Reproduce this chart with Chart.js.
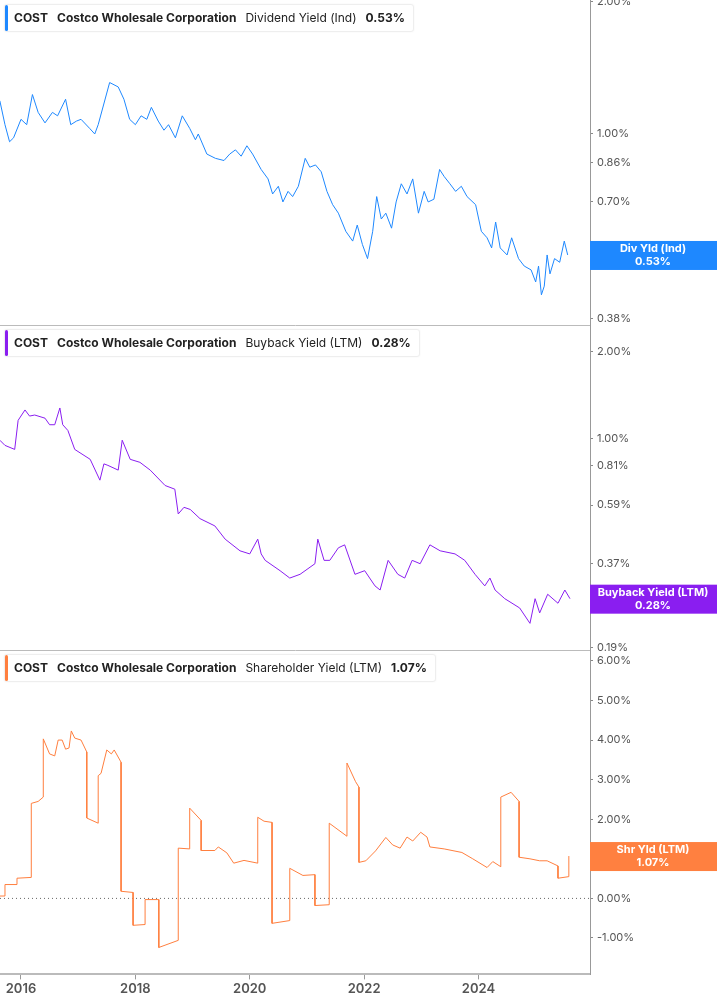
<!DOCTYPE html>
<html><head><meta charset="utf-8">
<script src="https://cdn.jsdelivr.net/npm/chart.js@4/dist/chart.umd.min.js"></script>
<style>
body{margin:0;background:#fff;font-family:Inter,"Noto Sans",sans-serif;overflow:hidden}
.p{position:absolute;left:0;width:717px;}
.lg{position:absolute;left:4px;background:#fff;border:1px solid #eee;border-radius:3px;font-size:12px;color:#222;height:26px;line-height:26px;padding:0 8px 0 9px;white-space:nowrap;box-shadow:0 0 2px rgba(0,0,0,.05);}
.lg .bar{position:absolute;left:0;top:0;width:3px;height:26px;border-radius:2px;}
.lg b{font-weight:700;margin-right:9px}
.lg span{margin-right:9px}
</style></head><body>
<div class="p" style="top:0;height:326px"><canvas id="c1"></canvas></div>
<div class="p" style="top:326px;height:325px"><canvas id="c2"></canvas></div>
<div class="p" style="top:651px;height:354px"><canvas id="c3"></canvas></div>
<div class="lg" style="top:4px"><div class="bar" style="background:#1e88ff"></div><b>COST</b><b>Costco Wholesale Corporation</b><span>Dividend Yield (Ind)</span><b style="margin:0">0.53%</b></div>
<div class="lg" style="top:329px"><div class="bar" style="background:#8a1ef0"></div><b>COST</b><b>Costco Wholesale Corporation</b><span>Buyback Yield (LTM)</span><b style="margin:0">0.28%</b></div>
<div class="lg" style="top:654px"><div class="bar" style="background:#ff7f3f"></div><b>COST</b><b>Costco Wholesale Corporation</b><span>Shareholder Yield (LTM)</span><b style="margin:0">1.07%</b></div>
<script>
const xMin=2015.633, xMax=2025.95;
const yearTicks=[2016,2018,2020,2022,2024];
const divTicks=[2.00,1.00,0.86,0.70,0.54,0.38];
const bbTicks=[2.00,1.00,0.81,0.59,0.37,0.27,0.19];
const shrTicks=[6,5,4,3,2,1,0,-1];
const divYield=[[2015.63,1.19],[2015.72,1.05],[2015.80,0.96],[2015.87,0.98],[2016.00,1.08],[2016.10,1.05],[2016.20,1.23],[2016.30,1.12],[2016.42,1.06],[2016.55,1.12],[2016.64,1.10],[2016.78,1.20],[2016.87,1.05],[2016.97,1.07],[2017.05,1.08],[2017.20,1.03],[2017.29,1.00],[2017.35,1.05],[2017.55,1.31],[2017.70,1.28],[2017.80,1.20],[2017.90,1.08],[2018.00,1.05],[2018.10,1.10],[2018.20,1.08],[2018.28,1.15],[2018.40,1.07],[2018.50,1.02],[2018.58,1.05],[2018.70,0.98],[2018.82,1.10],[2018.95,1.03],[2019.05,0.97],[2019.10,1.00],[2019.25,0.90],[2019.40,0.88],[2019.55,0.87],[2019.65,0.90],[2019.75,0.92],[2019.85,0.89],[2019.95,0.94],[2020.05,0.90],[2020.20,0.83],[2020.32,0.79],[2020.40,0.73],[2020.50,0.76],[2020.58,0.70],[2020.67,0.74],[2020.75,0.72],[2020.85,0.76],[2020.97,0.88],[2021.05,0.84],[2021.15,0.85],[2021.25,0.82],[2021.35,0.74],[2021.45,0.69],[2021.55,0.66],[2021.68,0.60],[2021.80,0.57],[2021.88,0.62],[2021.97,0.56],[2022.06,0.52],[2022.15,0.60],[2022.22,0.72],[2022.30,0.64],[2022.38,0.66],[2022.48,0.61],[2022.56,0.70],[2022.65,0.77],[2022.75,0.73],[2022.85,0.79],[2022.95,0.66],[2023.05,0.74],[2023.12,0.70],[2023.22,0.71],[2023.32,0.83],[2023.40,0.80],[2023.50,0.77],[2023.60,0.74],[2023.70,0.76],[2023.80,0.72],[2023.95,0.69],[2024.05,0.60],[2024.15,0.58],[2024.23,0.55],[2024.30,0.63],[2024.38,0.55],[2024.50,0.53],[2024.58,0.58],[2024.70,0.52],[2024.80,0.50],[2024.92,0.49],[2025.00,0.46],[2025.05,0.50],[2025.10,0.43],[2025.15,0.45],[2025.20,0.53],[2025.25,0.48],[2025.33,0.52],[2025.42,0.51],[2025.50,0.57],[2025.56,0.53]];
const buyback=[[2015.63,0.99],[2015.72,0.95],[2015.89,0.92],[2015.95,1.16],[2016.07,1.26],[2016.15,1.20],[2016.24,1.21],[2016.42,1.18],[2016.50,1.12],[2016.59,1.12],[2016.68,1.28],[2016.73,1.12],[2016.82,1.07],[2016.94,0.92],[2017.21,0.85],[2017.38,0.72],[2017.45,0.82],[2017.52,0.81],[2017.70,0.78],[2017.77,0.99],[2017.91,0.85],[2018.08,0.83],[2018.26,0.78],[2018.52,0.69],[2018.69,0.67],[2018.75,0.55],[2018.85,0.58],[2018.96,0.57],[2019.13,0.53],[2019.39,0.50],[2019.57,0.45],[2019.83,0.41],[2020.00,0.40],[2020.14,0.45],[2020.20,0.40],[2020.27,0.38],[2020.53,0.35],[2020.70,0.33],[2020.88,0.34],[2021.14,0.37],[2021.19,0.45],[2021.30,0.38],[2021.40,0.38],[2021.55,0.42],[2021.66,0.43],[2021.84,0.34],[2022.01,0.35],[2022.19,0.31],[2022.28,0.30],[2022.42,0.38],[2022.59,0.34],[2022.71,0.33],[2022.84,0.38],[2022.98,0.37],[2023.15,0.43],[2023.33,0.41],[2023.59,0.40],[2023.76,0.38],[2023.94,0.34],[2024.11,0.31],[2024.20,0.33],[2024.29,0.30],[2024.46,0.28],[2024.72,0.26],[2024.90,0.23],[2024.99,0.28],[2025.07,0.25],[2025.21,0.29],[2025.39,0.27],[2025.51,0.30],[2025.60,0.28]];
const shrYield=[[2015.63,0.06],[2015.72,0.06],[2015.72,0.35],[2015.93,0.35],[2015.93,0.51],[2016.18,0.53],[2016.18,2.40],[2016.30,2.45],[2016.39,2.56],[2016.39,4.03],[2016.50,3.65],[2016.59,3.6],[2016.65,4.0],[2016.72,4.0],[2016.78,3.77],[2016.84,3.8],[2016.88,4.23],[2016.94,4.05],[2017.05,4.0],[2017.15,3.7],[2017.15,2.03],[2017.35,1.90],[2017.35,3.1],[2017.40,3.16],[2017.50,3.75],[2017.58,3.65],[2017.63,3.75],[2017.75,3.44],[2017.75,0.18],[2017.96,0.15],[2017.96,-0.68],[2018.17,-0.66],[2018.17,-0.03],[2018.41,-0.03],[2018.41,-1.24],[2018.75,-1.06],[2018.75,1.27],[2018.95,1.25],[2018.95,2.28],[2019.15,1.97],[2019.15,1.21],[2019.39,1.21],[2019.45,1.3],[2019.60,1.15],[2019.72,0.89],[2019.90,0.96],[2020.14,0.89],[2020.14,2.05],[2020.25,1.95],[2020.39,1.92],[2020.39,-0.63],[2020.70,-0.56],[2020.70,0.76],[2020.93,0.58],[2021.14,0.6],[2021.14,-0.18],[2021.39,-0.16],[2021.39,1.9],[2021.70,1.57],[2021.70,3.42],[2021.85,2.95],[2021.91,2.81],[2021.91,0.91],[2022.03,0.95],[2022.20,1.2],[2022.38,1.54],[2022.50,1.35],[2022.63,1.27],[2022.75,1.55],[2022.85,1.45],[2022.99,1.67],[2023.10,1.55],[2023.15,1.30],[2023.40,1.25],[2023.71,1.16],[2023.90,1.0],[2024.15,0.78],[2024.25,0.93],[2024.39,0.8],[2024.39,2.56],[2024.57,2.68],[2024.71,2.45],[2024.71,1.04],[2024.90,1.0],[2025.07,0.95],[2025.20,0.95],[2025.39,0.82],[2025.39,0.51],[2025.58,0.55],[2025.58,1.07]];

const tickFont={family:'Inter, "Noto Sans", sans-serif',size:11};
function tagPlugin(line1,line2,val,color){
  return {id:'tag',afterDatasetsDraw(ch){
    const {ctx,chartArea,scales}=ch;const y=scales.y.getPixelForValue(val);
    ctx.save();ctx.fillStyle=color;ctx.fillRect(chartArea.right,y-14,127,29);
    ctx.fillStyle='#fff';ctx.font='bold 11px Inter, sans-serif';ctx.textAlign='center';ctx.textBaseline='middle';
    const cx=chartArea.right+63;ctx.fillText(line1,cx,y-6);ctx.fillText(line2,cx,y+7);ctx.restore();}};
}
const zeroLine={id:'zero',beforeDatasetsDraw(ch){const {ctx,chartArea,scales}=ch;const y=scales.y.getPixelForValue(0);
  ctx.save();ctx.strokeStyle='#666';ctx.setLineDash([1,3]);ctx.lineWidth=1;ctx.beginPath();ctx.moveTo(chartArea.left,y);ctx.lineTo(chartArea.right,y);ctx.stroke();ctx.restore();}};

function make(id,data,color,type,ymin,ymax,ticks,plugins,showX){
  return new Chart(document.getElementById(id),{type:'line',
    data:{datasets:[{data:data.map(p=>({x:p[0],y:p[1]})),borderColor:color,borderWidth:1,pointRadius:0,tension:0}]},
    options:{responsive:true,maintainAspectRatio:false,animation:false,
      layout:{padding:{left:0,top:0,bottom:showX?6:0,right:0}},
      plugins:{legend:{display:false},tooltip:{enabled:false}},
      scales:{
        x:{type:'linear',min:xMin,max:xMax,
          afterBuildTicks:s=>{s.ticks=yearTicks.map(v=>({value:v}));},
          afterFit:s=>{if(!showX){s.height=1;} s.paddingLeft=0;s.paddingRight=0;},
          grid:{display:showX,drawOnChartArea:false,color:'#999',tickLength:5},
          border:{display:true,color:'#bbb',width:showX?2:1},
          ticks:{display:showX,color:'#555',font:{family:tickFont.family,size:13,weight:'600'},callback:v=>String(v),maxRotation:0,padding:2}},
        y:{type:type,position:'right',min:ymin,max:ymax,
          afterBuildTicks:s=>{s.ticks=ticks.map(v=>({value:v}));},
          afterFit:s=>{s.width=127;s.paddingTop=0;s.paddingBottom=0;},
          grid:{display:true,drawOnChartArea:false,color:'#888',tickLength:3},
          border:{display:true,color:'#999'},
          ticks:{color:'#555',font:tickFont,padding:4,callback:v=>Number(v).toFixed(2)+'%'}}
      }},plugins:plugins});
}
make('c1',divYield,'#1e88ff','logarithmic',0.367,2.02,divTicks,[tagPlugin('Div Yld (Ind)','0.53%',0.53,'#1e88ff')],false);
make('c2',buyback,'#8a1ef0','logarithmic',0.186,2.46,bbTicks,[tagPlugin('Buyback Yield (LTM)','0.28%',0.28,'#8a1ef0')],false);
make('c3',shrYield,'#ff7f3f','linear',-1.92,6.25,shrTicks,[zeroLine,tagPlugin('Shr Yld (LTM)','1.07%',1.07,'#ff8040')],true);
</script></body></html>
